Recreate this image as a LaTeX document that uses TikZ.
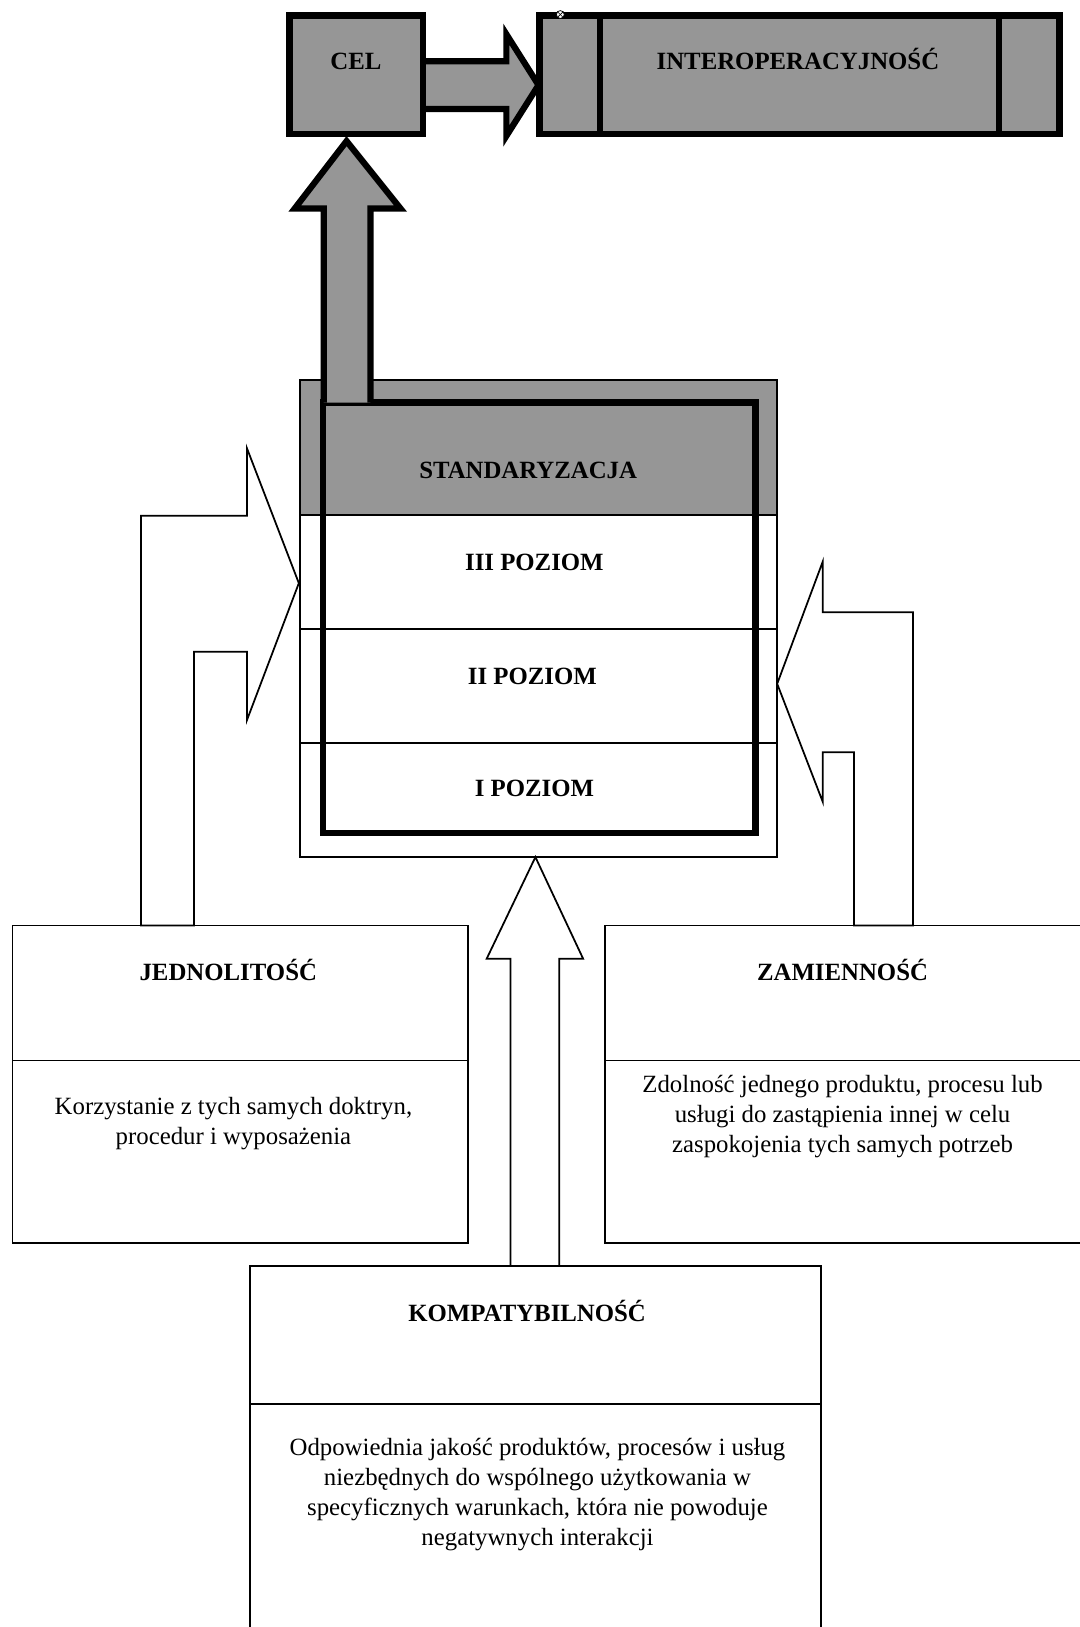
\documentclass[tikz,border=0pt]{standalone}
\usepackage{fontspec}
\setmainfont{Liberation Serif}
\definecolor{boxgray}{RGB}{150,150,150}
\tikzset{
	thickline/.style={line width=0.15cm, line join=miter},
	thinline/.style={line width=1.2pt},
	headtext/.style={font=\fontsize{17}{20.6}\selectfont\bfseries, anchor=base, inner sep=0pt},
	bodytext/.style={font=\fontsize{17}{20.6}\selectfont, align=center, inner sep=0pt}
}
\begin{document}
\begin{tikzpicture}[x=0.025cm, y=-0.025cm]
			\useasboundingbox (0, 0) rectangle (1040, 1568);
			\fill[white] (0, 0) rectangle (1040, 1568);
			\path[draw, thinline, fill=white] (289, 366) rectangle (749, 826);
			\path[draw, thinline, fill=boxgray] (289, 366) rectangle (749, 496);
			\draw[thinline] (289, 606) -- (749, 606);
			\draw[thinline] (289, 716) -- (749, 716);
			\draw[thickline] (311, 388) rectangle (728, 803);
			\path[draw, thickline, fill=boxgray] (312, 388) -- (312, 201) -- (284, 201) -- (334, 136) -- (386, 201) -- (357, 201) -- (357, 388);
			\path[draw, thickline, fill=boxgray] (408, 59) -- (488, 59) -- (488, 33) -- (519, 82) -- (488, 131) -- (488, 105) -- (408, 105);
			\path[draw, thickline, fill=boxgray] (279, 15) rectangle (408, 129);
			\path[draw, thickline, fill=boxgray] (520, 15) rectangle (1021, 129);
			\draw[thickline] (578, 15) -- (578, 129);
			\draw[thickline] (963, 15) -- (963, 129);
			\node[circle, draw, fill=white, line width=0.5pt, minimum size=0.19cm, inner sep=0pt] (pin) at (540, 14) {};
			\draw[line width=0.4pt] (pin.north west) -- (pin.south east);
			\draw[line width=0.4pt] (pin.north east) -- (pin.south west);
			\path[draw, thinline, fill=white] (136, 892) -- (136, 497) -- (238, 497) -- (238, 432) -- (288, 562) -- (238, 694) -- (238, 628) -- (187, 628) -- (187, 892) -- cycle;
			\path[draw, thinline, fill=white] (880, 892) -- (880, 590) -- (793, 590) -- (793, 541) -- (749, 659) -- (793, 773) -- (793, 725) -- (823, 725) -- (823, 892) -- cycle;
			\path[draw, thinline, fill=white] (492, 1220) -- (492, 924) -- (469, 924) -- (516, 826) -- (562, 924) -- (539, 924) -- (539, 1220) -- cycle;
			\path[draw, thinline] (12, 892) rectangle (451, 1198);
			\draw[thinline] (12, 1022) -- (451, 1022);
			\path[draw, thinline] (583, 892) rectangle (1042, 1198);
			\draw[thinline] (583, 1022) -- (1042, 1022);
			\path[draw, thinline, fill=white] (241, 1220) rectangle (791, 1574);
			\draw[thinline] (241, 1353) -- (791, 1353);
			\node[headtext] (cel) at (343, 67) {CEL};
			\node[headtext] (interop) at (769, 67) {INTEROPERACYJNOŚĆ};
			\node[headtext] (standard) at (509, 461) {STANDARYZACJA};
			\node[headtext] (poz3) at (515, 550) {III POZIOM};
			\node[headtext] (poz2) at (513, 660) {II POZIOM};
			\node[headtext] (poz1) at (515, 768) {I POZIOM};
			\node[headtext] (jedn) at (220, 945) {JEDNOLITOŚĆ};
			\node[bodytext] (jednopis) at (225, 1083) {Korzystanie z tych samych doktryn,\\procedur i wyposażenia};
			\node[headtext] (zamien) at (812, 945) {ZAMIENNOŚĆ};
			\node[bodytext] (zamienopis) at (812, 1076) {Zdolność jednego produktu, procesu lub\\usługi do zastąpienia innej w celu\\zaspokojenia tych samych potrzeb};
			\node[headtext] (kompat) at (508, 1274) {KOMPATYBILNOŚĆ};
			\node[bodytext] (kompatopis) at (518, 1440) {Odpowiednia jakość produktów, procesów i usług\\niezbędnych do wspólnego użytkowania w\\specyficznych warunkach, która nie powoduje\\negatywnych interakcji};
			\end{tikzpicture}
\end{document}
